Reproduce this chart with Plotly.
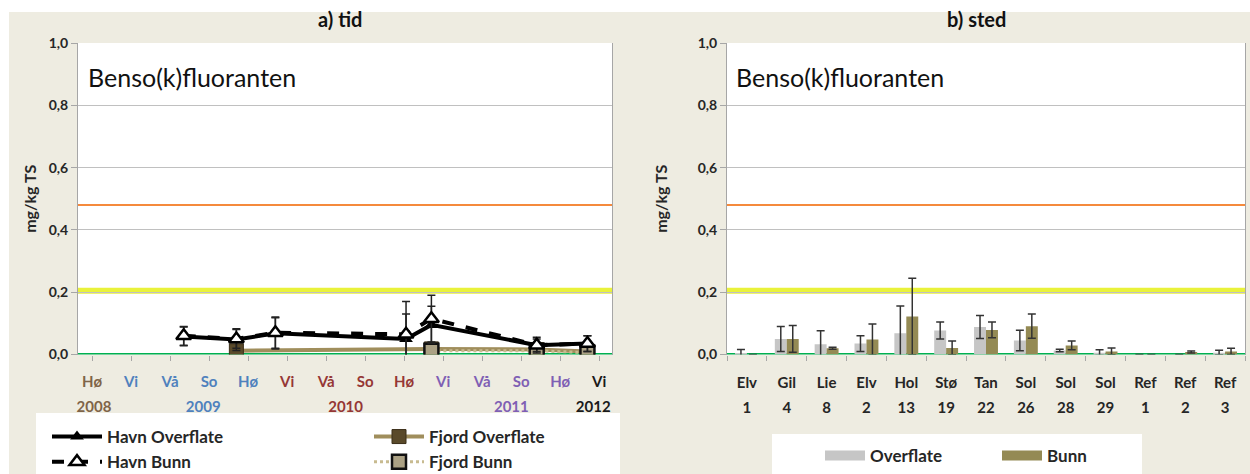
import plotly.graph_objects as go

W, H = 1250, 474
FONT = "Lato"
BG = "#eeece1"
TXT = "#262626"


def fx(p):
    return p / W


def fy(p):
    return 1 - p / H


# ---------------- data: a) tid ----------------
seasons = ["Hø", "Vi", "Vå", "So", "Hø", "Vi", "Vå", "So", "Hø", "Vi", "Vå", "So", "Hø", "Vi"]
season_colors = ["#7f6448"] + ["#4f81bd"] * 4 + ["#953735"] * 4 + ["#7f5fb4"] * 4 + ["#1a1a1a"]
years = ["2008", "2009", "2010", "2011", "2012"]
year_pos = [0.05, 2.85, 6.5, 10.75, 12.85]
year_colors = ["#7f6448", "#4f81bd", "#953735", "#7f5fb4", "#1a1a1a"]

havn_x = [2.35, 3.7, 4.7, 8.05, 8.7, 11.4, 12.7]
havn_overflate = [0.058, 0.048, 0.068, 0.05, 0.095, 0.03, 0.035]
havn_overflate_err = [0.03, 0.035, 0.05, 0.08, 0.06, 0.025, 0.025]
havn_bunn = [0.06, 0.05, 0.07, 0.065, 0.115, 0.03, 0.035]
havn_bunn_err = [0.03, 0.03, 0.05, 0.105, 0.075, 0.02, 0.025]

fjord_o_x = [3.7, 8.7, 11.4, 12.7]
fjord_overflate = [0.012, 0.018, 0.016, 0.01]
fjord_b_x = [8.7, 11.4, 12.7]
fjord_bunn = [0.012, 0.012, 0.006]

# ---------------- data: b) sted ----------------
sites = ["Elv", "Gil", "Lie", "Elv", "Hol", "Stø", "Tan", "Sol", "Sol", "Sol", "Ref", "Ref", "Ref"]
site_nums = ["1", "4", "8", "2", "13", "19", "22", "26", "28", "29", "1", "2", "3"]
overflate = [0.003, 0.05, 0.033, 0.035, 0.068, 0.077, 0.088, 0.045, 0.013, 0.006, 0, 0, 0.006]
overflate_err = [0.013, 0.04, 0.043, 0.025, 0.088, 0.027, 0.037, 0.033, 0.004, 0.009, 0, 0, 0.008]
bunn = [0, 0.05, 0.02, 0.048, 0.122, 0.021, 0.079, 0.091, 0.029, 0.01, 0, 0.008, 0.01]
bunn_err = [0, 0.043, 0.003, 0.05, 0.123, 0.022, 0.025, 0.039, 0.014, 0.011, 0, 0.003, 0.01]

# thresholds (class limits)
limits = [0.0, 0.205, 0.48]
limit_colors = ["#00b050", "#e9f23a", "#f58a3c"]
limit_widths = [3, 6, 2]

y_ticks = [0, 0.2, 0.4, 0.6, 0.8, 1.0]
y_ticktext = ["0,0", "0,2", "0,4", "0,6", "0,8", "1,0"]

fig = go.Figure()

# ---- left panel traces ----
fig.add_trace(go.Scatter(
    x=fjord_o_x, y=fjord_overflate, mode="lines+markers", name="Fjord Overflate",
    line=dict(color="#a08e5c", width=4),
    marker=dict(symbol="square", size=14, color="#5a4a2a", line=dict(color="#3a2e18", width=1)),
    xaxis="x", yaxis="y", legend="legend3"))
fig.add_trace(go.Scatter(
    x=fjord_b_x, y=fjord_bunn, mode="lines+markers", name="Fjord Bunn",
    line=dict(color="#c8bb90", width=3, dash="dot"),
    marker=dict(symbol="square", size=14, color="#aba184", line=dict(color="#111111", width=2.5)),
    xaxis="x", yaxis="y", legend="legend3"))
fig.add_trace(go.Scatter(
    x=havn_x, y=havn_overflate, mode="lines+markers", name="Havn Overflate",
    line=dict(color="#000000", width=4),
    marker=dict(symbol="triangle-up", size=12, color="#000000"),
    error_y=dict(type="data", array=havn_overflate_err, color="#222222", thickness=1.5, width=4),
    xaxis="x", yaxis="y", legend="legend"))
fig.add_trace(go.Scatter(
    x=havn_x, y=havn_bunn, mode="lines+markers", name="Havn Bunn",
    line=dict(color="#000000", width=4, dash="dash"),
    marker=dict(symbol="triangle-up", size=13, color="#ffffff", line=dict(color="#000000", width=2.5)),
    error_y=dict(type="data", array=havn_bunn_err, color="#222222", thickness=1.5, width=4),
    xaxis="x", yaxis="y", legend="legend"))
fig.add_trace(go.Scatter(x=[None], y=[None], xaxis="x3", yaxis="y", showlegend=False))

# ---- right panel traces ----
site_idx = list(range(len(sites)))
fig.add_trace(go.Bar(
    x=site_idx, y=overflate, name="Overflate", marker=dict(color="#c6c6c6", line=dict(width=0)),
    error_y=dict(type="data", array=overflate_err, color="#333333", thickness=1.5, width=4),
    xaxis="x2", yaxis="y2", showlegend=False))
fig.add_trace(go.Bar(
    x=site_idx, y=bunn, name="Bunn", marker=dict(color="#948a54", line=dict(width=0)),
    error_y=dict(type="data", array=bunn_err, color="#333333", thickness=1.5, width=4),
    xaxis="x2", yaxis="y2", showlegend=False))
fig.add_trace(go.Scatter(x=[None], y=[None], mode="lines", name="Overflate",
                         line=dict(color="#c6c6c6", width=12), xaxis="x2", yaxis="y2", legend="legend2"))
fig.add_trace(go.Scatter(x=[None], y=[None], mode="lines", name="Bunn",
                         line=dict(color="#948a54", width=12), xaxis="x2", yaxis="y2", legend="legend2"))
fig.add_trace(go.Scatter(x=[None], y=[None], xaxis="x4", yaxis="y2", showlegend=False))

# ---- axes ----
ydom = [fy(354.5), fy(43)]
left_dom = [fx(78), fx(612)]
right_dom = [fx(727), fx(1245)]
xl_range = [-0.36, 13.33]
xr_range = [-0.5, 12.5]

tickfont = dict(family=FONT, size=15, color=TXT, weight="bold")
season_text = [f'<span style="color:{c}">{s}</span>' for s, c in zip(seasons, season_colors)]
year_text = [f'<span style="color:{c}">{y}</span>' for y, c in zip(years, year_colors)]


def y_axis(standoff):
    return dict(range=[0, 1.0], tickvals=y_ticks, ticktext=y_ticktext,
                tickfont=dict(family=FONT, size=14, color=TXT, weight="bold"),
                showgrid=True, gridcolor="#c0c0c0", gridwidth=1, zeroline=False,
                showline=True, linecolor="#a6a6a6", linewidth=1, mirror=True,
                ticks="outside", ticklen=6, tickcolor="#a6a6a6",
                title=dict(text="mg/kg TS", font=dict(family=FONT, size=16, color=TXT, weight="bold"), standoff=standoff))


legend_font = dict(family=FONT, size=17, color=TXT, weight="bold")

fig.update_layout(
    width=W, height=H, margin=dict(l=0, r=0, t=0, b=0, autoexpand=False),
    paper_bgcolor=BG, plot_bgcolor="#ffffff",
    barmode="group", bargap=0.4, bargroupgap=0,
    xaxis=dict(domain=left_dom, range=xl_range, anchor="y", tickvals=list(range(len(seasons))), ticktext=season_text,
               tickfont=tickfont, ticks="outside", ticklen=5, tickcolor="#a6a6a6", showgrid=False, zeroline=False,
               showline=False, ticklabelstandoff=8),
    xaxis3=dict(overlaying="x", range=xl_range, anchor="y", side="bottom", tickvals=year_pos, ticktext=year_text,
                tickfont=tickfont, ticks="", showgrid=False, zeroline=False, showline=False, ticklabelstandoff=41),
    yaxis=dict(domain=ydom, anchor="x", **y_axis(8)),
    xaxis2=dict(domain=right_dom, range=xr_range, anchor="y2", tickvals=site_idx, ticktext=sites,
                tickfont=tickfont, ticks="", showgrid=False, zeroline=False, showline=False, ticklabelstandoff=17,
                minor=dict(tick0=-0.5, dtick=1, ticks="outside", ticklen=5, tickcolor="#a6a6a6", showgrid=False)),
    xaxis4=dict(overlaying="x2", range=xr_range, anchor="y2", side="bottom", tickvals=site_idx, ticktext=site_nums,
                tickfont=tickfont, ticks="", showgrid=False, zeroline=False, showline=False, ticklabelstandoff=42),
    yaxis2=dict(domain=ydom, anchor="x2", **y_axis(26)),
    legend=dict(x=fx(47), y=fy(419), xanchor="left", yanchor="top", orientation="v", bgcolor="rgba(0,0,0,0)",
                font=legend_font, itemwidth=50, tracegroupgap=0),
    legend3=dict(x=fx(369), y=fy(419), xanchor="left", yanchor="top", orientation="v", bgcolor="rgba(0,0,0,0)",
                 font=legend_font, itemwidth=50, tracegroupgap=0),
    legend2=dict(x=fx(820), y=fy(456), xanchor="left", yanchor="middle", orientation="h", bgcolor="rgba(0,0,0,0)",
                 font=legend_font, itemwidth=40, entrywidth=122, entrywidthmode="pixels"),
)

shapes = [
    dict(type="rect", xref="paper", yref="paper", x0=0, x1=1, y0=fy(12), y1=1, fillcolor="#ffffff", line=dict(width=0), layer="below"),
    dict(type="rect", xref="paper", yref="paper", x0=0, x1=fx(9), y0=0, y1=1, fillcolor="#ffffff", line=dict(width=0), layer="below"),
    dict(type="rect", xref="paper", yref="paper", x0=fx(36), x1=fx(620), y0=0, y1=fy(413), fillcolor="#ffffff", line=dict(width=0), layer="below"),
    dict(type="rect", xref="paper", yref="paper", x0=fx(772), x1=fx(1142), y0=0, y1=fy(434), fillcolor="#ffffff", line=dict(width=0), layer="below"),
]
for ya, xd in (("y", "x domain"), ("y2", "x2 domain")):
    for v, c, w in zip(limits, limit_colors, limit_widths):
        shapes.append(dict(type="line", xref=xd, yref=ya, x0=0, x1=1, y0=v, y1=v, line=dict(color=c, width=w), layer="below"))
fig.update_layout(shapes=shapes)

annotations = [
    dict(text="a) tid", xref="paper", yref="paper", x=fx(340), y=fy(19), showarrow=False, xanchor="center", yanchor="middle",
         font=dict(family=FONT, size=20, color="#111111", weight="bold")),
    dict(text="b) sted", xref="paper", yref="paper", x=fx(976), y=fy(19), showarrow=False, xanchor="center", yanchor="middle",
         font=dict(family=FONT, size=20, color="#111111", weight="bold")),
    dict(text="Benso(k)fluoranten", xref="paper", yref="paper", x=fx(86), y=fy(77), showarrow=False, xanchor="left", yanchor="middle",
         font=dict(family=FONT, size=25, color="#111111")),
    dict(text="Benso(k)fluoranten", xref="paper", yref="paper", x=fx(734), y=fy(77), showarrow=False, xanchor="left", yanchor="middle",
         font=dict(family=FONT, size=25, color="#111111")),
]
fig.update_layout(annotations=annotations)

fig.write_html("out.html", config={"displayModeBar": False},
               post_script="document.body.style.margin='0';document.body.style.overflow='hidden';")
